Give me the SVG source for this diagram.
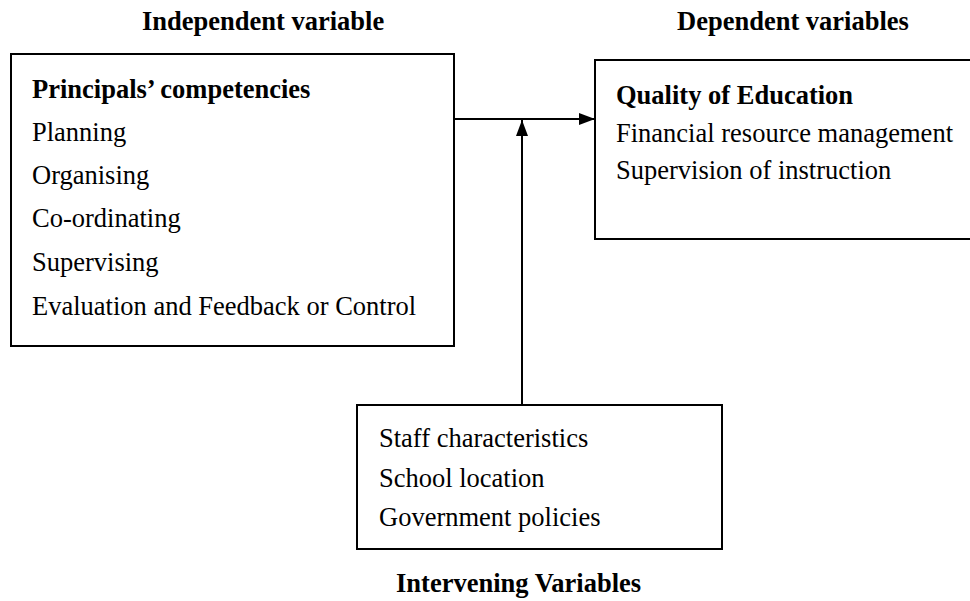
<svg xmlns="http://www.w3.org/2000/svg" width="970" height="601" viewBox="0 0 970 601">
<style>
text{font-family:"Liberation Serif","Times New Roman",serif;font-size:26.5px;fill:#000}
.b{font-weight:bold}
.box{fill:#fff;stroke:#000;stroke-width:2}
.conn{stroke:#000;stroke-width:2;fill:none}
</style>
<defs>
<marker id="arr" viewBox="0 0 16 12" refX="16" refY="6" markerWidth="16" markerHeight="12" markerUnits="userSpaceOnUse" orient="auto">
<path d="M0,0 L16,6 L0,12 Z" fill="#000"/>
</marker>
</defs>
<rect width="970" height="601" fill="#fff"/>
<g id="headers">
<text class="b" x="142" y="30">Independent variable</text>
<text class="b" x="677" y="30">Dependent variables</text>
<text class="b" x="396" y="592">Intervening Variables</text>
</g>
<g id="independent">
<rect class="box" x="11" y="54" width="443" height="292"/>
<text class="b" x="32" y="98">Principals’ competencies</text>
<text x="32" y="141">Planning</text>
<text x="32" y="184">Organising</text>
<text x="32" y="227">Co-ordinating</text>
<text x="32" y="271">Supervising</text>
<text x="32" y="315">Evaluation and Feedback or Control</text>
</g>
<g id="dependent">
<rect class="box" x="595" y="60" width="390" height="179"/>
<text class="b" x="616" y="104">Quality of Education</text>
<text x="616" y="142">Financial resource management</text>
<text x="616" y="179">Supervision of instruction</text>
</g>
<g id="intervening">
<rect class="box" x="357" y="405" width="365" height="144"/>
<text x="379" y="447">Staff characteristics</text>
<text x="379" y="487">School location</text>
<text x="379" y="526">Government policies</text>
</g>
<g id="connectors">
<line class="conn" x1="454" y1="119" x2="595" y2="119" marker-end="url(#arr)"/>
<line class="conn" x1="522" y1="405" x2="522" y2="120" marker-end="url(#arr)"/>
</g>
</svg>
